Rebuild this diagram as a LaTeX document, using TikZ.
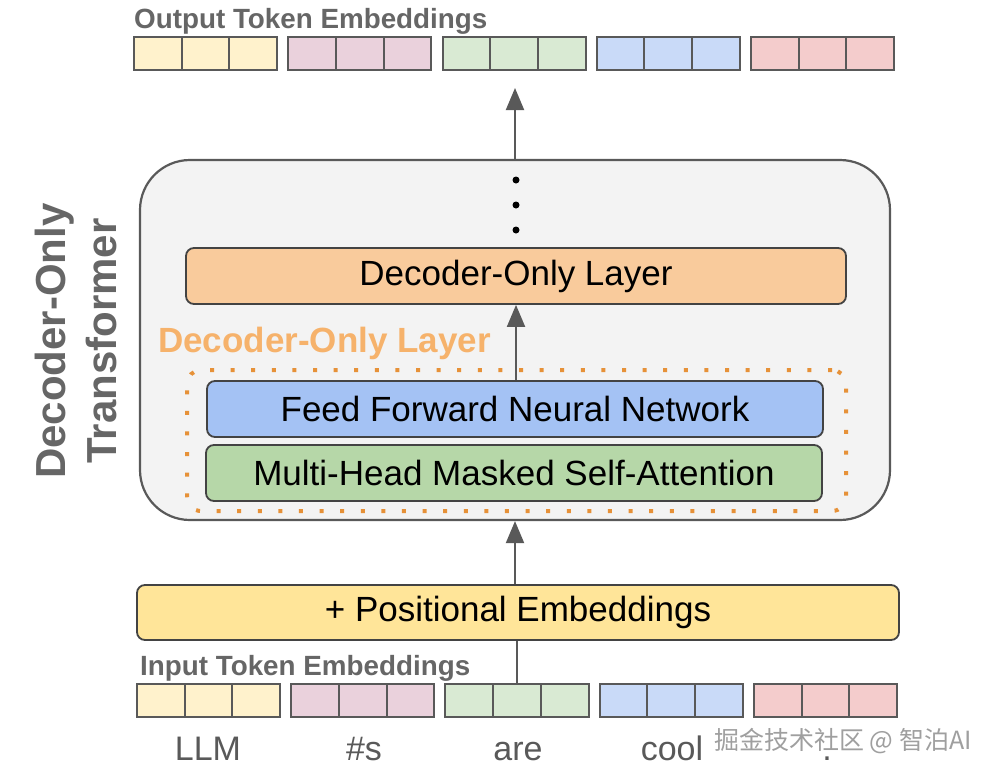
\documentclass[tikz,border=0pt]{standalone}
\usepackage{fontspec}
\setmainfont{Liberation Sans}
\newfontfamily\cjk{Noto Sans CJK SC}
\usetikzlibrary{arrows.meta,calc}
\definecolor{lab}{HTML}{666666}
\definecolor{wordc}{HTML}{595959}
\definecolor{edge}{HTML}{595959}
\definecolor{boxedge}{HTML}{434343}
\definecolor{cy}{HTML}{FFF2CC}
\definecolor{cp}{HTML}{EAD1DC}
\definecolor{cg}{HTML}{D9EAD3}
\definecolor{cb}{HTML}{C9DAF8}
\definecolor{cr}{HTML}{F4CCCC}
\definecolor{outerfill}{HTML}{F3F3F3}
\definecolor{decfill}{HTML}{F9CB9C}
\definecolor{ffnfill}{HTML}{A4C2F4}
\definecolor{mhafill}{HTML}{B6D7A8}
\definecolor{pefill}{HTML}{FFE599}
\definecolor{orlab}{HTML}{F6B26B}
\definecolor{ordot}{HTML}{E69138}
\begin{document}
\begin{tikzpicture}[x=1pt,y=-1pt,
  cell/.style={draw=edge, line width=2pt, minimum width=47.7pt, minimum height=33pt, inner sep=0pt, outer sep=0pt},
  layerbox/.style={draw=boxedge, line width=1.8pt, rounded corners=8pt, minimum height=56pt, inner sep=0pt, font=\fontsize{35}{40}\selectfont, text=black},
  smalllab/.style={anchor=base west, inner sep=0pt, font=\bfseries\fontsize{27.8}{30}\selectfont, text=lab},
  word/.style={anchor=base, inner sep=0pt, font=\fontsize{34}{38}\selectfont, text=wordc},
  arr/.style={draw=edge, line width=2pt, -{Triangle[length=22pt,width=18pt]}},
  plain/.style={draw=edge, line width=2pt}
]
\useasboundingbox (0,0) rectangle (996,777);
\fill[white] (0,0) rectangle (996,777);

% output embeddings
\node[smalllab] (outlbl) at (134,28) {Output Token Embeddings};
\foreach \g/\col in {0/cy,1/cp,2/cg,3/cb,4/cr}{
  \foreach \c in {0,1,2}{
    \node[cell, fill=\col] (o\g\c) at ({134+\g*154.25+(\c+0.5)*47.7},53.5) {};
  }
}

% outer box
\node[draw=edge, line width=2.2pt, fill=outerfill, rounded corners=50pt, minimum width=750pt, minimum height=360pt, inner sep=0pt] (outer) at (515,340) {};

% dots
\node[circle, fill=black, minimum size=7pt, inner sep=0pt] (d1) at (516,180) {};
\node[circle, fill=black, minimum size=7pt, inner sep=0pt] (d2) at (516,205) {};
\node[circle, fill=black, minimum size=7pt, inner sep=0pt] (d3) at (516,230) {};

% decoder layer
\node[layerbox, fill=decfill, minimum width=660pt] (dec) at (516,276) {Decoder-Only Layer};

% dotted group
\node[draw=ordot, line width=4pt, dash pattern=on 4pt off 16.6pt, rounded corners=14pt, minimum width=659pt, minimum height=141pt, inner sep=0pt] (grp) at (516.5,440.5) {};
\node[anchor=base west, inner sep=0pt, font=\bfseries\fontsize{35}{40}\selectfont, text=orlab] (grplbl) at (158,352) {Decoder-Only Layer};

\node[layerbox, fill=ffnfill, minimum width=616pt] (ffn) at (515,409) {Feed Forward Neural Network};
\node[layerbox, fill=mhafill, minimum width=616pt] (mha) at (514,473) {Multi-Head Masked Self-Attention};

% positional embeddings
\node[layerbox, fill=pefill, minimum width=762pt, minimum height=55pt] (pe) at (518,612.5) {+ Positional Embeddings};

% input embeddings
\node[smalllab] (inlbl) at (140,675) {Input Token Embeddings};
\foreach \g/\col in {0/cy,1/cp,2/cg,3/cb,4/cr}{
  \foreach \c in {0,1,2}{
    \node[cell, fill=\col] (i\g\c) at ({137+\g*154.2+(\c+0.5)*47.7},700) {};
  }
}

% words
\node[word] (w1) at (208,760) {LLM};
\node[word] (w2) at (364,760) {\#s};
\node[word] (w3) at (518,760) {are};
\node[word] (w4) at (672,760) {cool};
\node[word] (w5) at (827,760) {.};

% side label
\node[rotate=90, align=center, inner sep=0pt, font=\bfseries\fontsize{42}{51}\selectfont, text=lab] (side) at (75.5,341) {Decoder-Only\\Transformer};

% watermark
\node[anchor=base, inner sep=0pt, text depth=0pt, font=\cjk\fontsize{25}{28}\selectfont, text=gray!75] (wm) at (843,749) {掘金技术社区 @ 智泊AI};

% connectors
\coordinate (topend) at (515,88);
\draw[arr] (outer.north -| topend) -- (topend);
\draw[arr] (ffn.north -| dec.south) -- (dec.south);
\draw[arr] (pe.north -| outer.south) -- (outer.south);
\draw[plain] (i21.north) -- (i21.north |- pe.south);
\end{tikzpicture}
\end{document}
